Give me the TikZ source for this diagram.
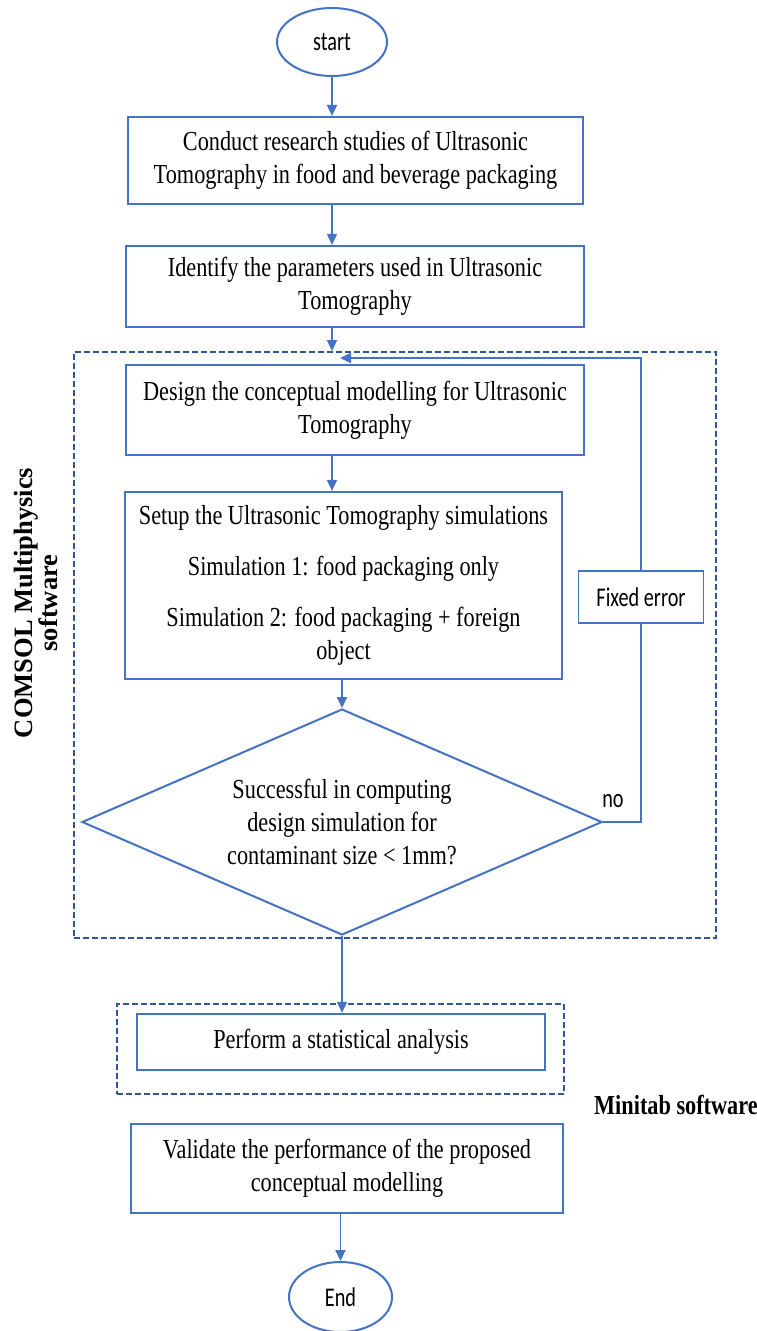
\documentclass[tikz,border=0pt]{standalone}
\usepackage{fontspec}
\setmainfont[FakeStretch=0.81]{Liberation Serif}
\newfontfamily\lblfont{Liberation Serif}
\newfontfamily\calfont[FakeStretch=0.75]{Carlito}
\usetikzlibrary{shapes.geometric,arrows.meta,calc}
\definecolor{boxblue}{HTML}{4472C4}
\definecolor{dashblue}{HTML}{2F5597}
\begin{document}
\begin{tikzpicture}[x=1pt,y=-1pt,
  box/.style={draw=boxblue,line width=2.2pt,align=center,inner sep=0pt,font=\fontsize{27.5}{33}\selectfont},
  term/.style={draw=boxblue,line width=2pt,ellipse,inner sep=0pt,font=\calfont\fontsize{27}{30}\selectfont},
  arr/.style={draw=boxblue,line width=1.8pt,-{Triangle[length=11pt,width=10pt]}},
  link/.style={draw=boxblue,line width=1.8pt},
  grp/.style={draw=dashblue,line width=2pt,dash pattern=on 6pt off 3pt,inner sep=0pt},
  sans/.style={font=\calfont\fontsize{27}{30}\selectfont,inner sep=0pt},
]
\useasboundingbox (0,0) rectangle (757,1331);
\fill[white] (0,0) rectangle (757,1331);

% group frames
\node[grp,minimum width=642,minimum height=586] (comsol) at (395,645) {};
\node[grp,minimum width=447,minimum height=90] (minitab) at (340.5,1049) {};

% terminals
\node[term,minimum width=110,minimum height=68] (start) at (332,42) {start};
\node[term,minimum width=103,minimum height=70] (end) at (340.5,1297) {End};

% process boxes
\node[box,minimum width=455,minimum height=87] (b1) at (355.5,160.5)
  {Conduct research studies of Ultrasonic\\Tomography in food and beverage packaging};
\node[box,minimum width=458,minimum height=81] (b2) at (355,286.5)
  {Identify the parameters used in Ultrasonic\\Tomography};
\node[box,minimum width=458,minimum height=90] (b3) at (355,410)
  {Design the conceptual modelling for Ultrasonic\\Tomography};
\node[box,minimum width=437,minimum height=187] (b4) at (343.5,585.5)
  {Setup the Ultrasonic Tomography simulations\\[18pt]
   Simulation 1: food packaging only\\[18pt]
   Simulation 2: food packaging + foreign\\object};
\node[draw=boxblue,line width=1.2pt,sans,minimum width=125,minimum height=52] (fix) at (641,597) {Fixed error};
\node[draw=boxblue,line width=2pt,diamond,aspect=2.3,minimum width=520,minimum height=226,inner sep=0pt,
      align=center,font=\fontsize{27.5}{33}\selectfont] (dec) at (342,822)
  {Successful in computing\\design simulation for\\contaminant size < 1mm?};
\node[sans] (no) at (613,801) {no};
\node[box,minimum width=408,minimum height=56] (b5) at (341,1042) {Perform a statistical analysis};
\node[box,minimum width=432,minimum height=89] (b6) at (347,1168.5)
  {Validate the performance of the proposed\\conceptual modelling};

% labels
\node[rotate=90,align=center,inner sep=0pt,font=\lblfont\bfseries\fontsize{26.5}{18}\selectfont] (clbl) at (36,603)
  {COMSOL Multiphysics\\software};
\node[anchor=west,inner sep=0pt,font=\bfseries\fontsize{27.5}{30}\selectfont] (mlbl) at (594,1105) {Minitab software};

% connectors
\coordinate (loopin) at (340,358);
\draw[arr] (start.south) -- (start.south |- b1.north);
\draw[arr] (b1.south -| start.south) -- (b2.north -| start.south);
\draw[arr] (b2.south -| start.south) -- (comsol.north -| start.south);
\draw[arr] (b3.south -| start.south) -- (b4.north -| start.south);
\draw[arr] (b4.south -| dec.north) -- (dec.north);
\draw[link] (dec.east) -| (fix.south);
\draw[arr] (fix.north) |- (loopin);
\draw[arr] (dec.south) -- (dec.south |- b5.north);
\draw[arr] (b6.south -| end.north) -- (end.north);
\end{tikzpicture}
\end{document}
